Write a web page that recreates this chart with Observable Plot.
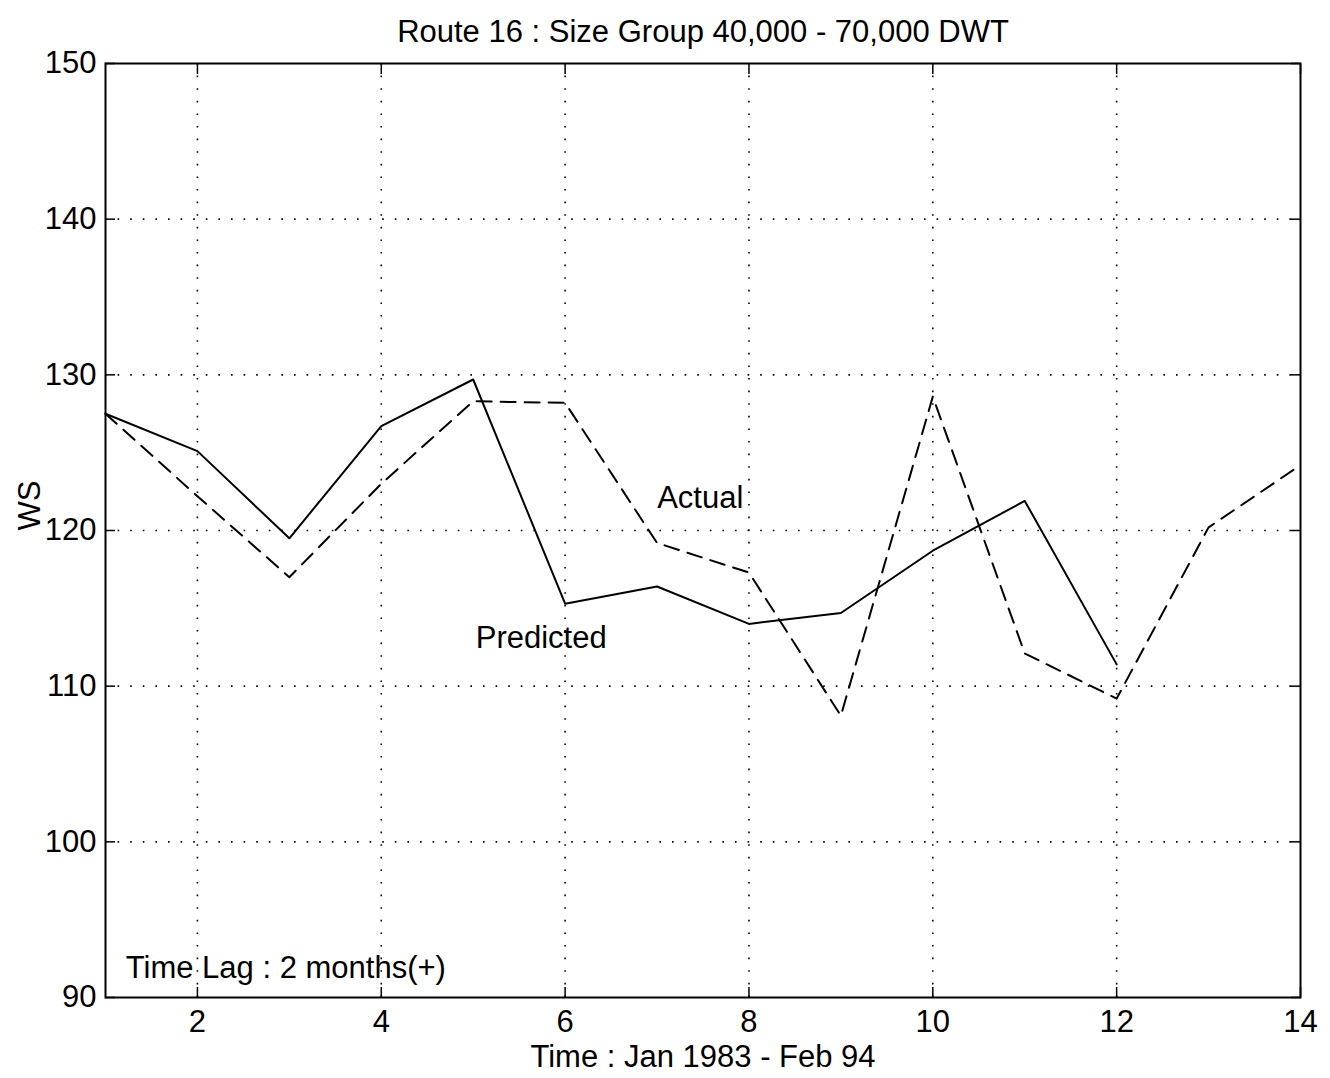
<!DOCTYPE html>
<html>
<head>
<meta charset="utf-8">
<script src="https://cdn.jsdelivr.net/npm/d3@7"></script>
<script src="https://cdn.jsdelivr.net/npm/@observablehq/plot@0.6"></script>
<style>
  html, body { margin: 0; padding: 0; background: #fff; }
  #chart svg { display: block; }
</style>
</head>
<body>
<div id="chart"></div>
<script>
const months = [1, 2, 3, 4, 5, 6, 7, 8, 9, 10, 11, 12, 13, 14];
const actual = [127.5, 122.2, 117.0, 123.0, 128.3, 128.2, 119.2, 117.3, 108.1, 128.6, 112.1, 109.2, 120.2, 124.2];
const predicted = [127.5, 125.1, 119.5, 126.7, 129.7, 115.3, 116.4, 114.0, 114.7, 118.7, 121.9, 111.4];
const xTicks = [2, 4, 6, 8, 10, 12, 14];
const yTicks = [90, 100, 110, 120, 130, 140, 150];
const xGrid = [2, 4, 6, 8, 10, 12];
const yGrid = [100, 110, 120, 130, 140];
const centerLabels = [
  {x: 7.47, y: 122.1, text: "Actual"},
  {x: 5.74, y: 113.1, text: "Predicted"}
];
const lagLabel = [{x: 1.22, y: 91.9, text: "Time Lag : 2 months(+)"}];
const title = "Route 16 : Size Group 40,000 - 70,000 DWT";
const xLabel = "Time : Jan 1983 - Feb 94";
const yLabel = "WS";

const actualData = actual.map((v, i) => ({x: months[i], y: v}));
const predData = predicted.map((v, i) => ({x: months[i], y: v}));

const FONT = "'Liberation Sans', Arial, Helvetica, sans-serif";
const FS = 31;

const chart = Plot.plot({
  width: 1330,
  height: 1078,
  marginLeft: 105,
  marginRight: 30,
  marginTop: 63,
  marginBottom: 81,
  style: {fontFamily: FONT, fontSize: FS + "px", color: "#000", background: "#fff"},
  x: {domain: [1, 14]},
  y: {domain: [90, 150]},
  marks: [
    Plot.ruleX(xGrid, {stroke: "#000", strokeWidth: 1.6, strokeDasharray: "1.6,11", strokeOpacity: 1}),
    Plot.ruleY(yGrid, {stroke: "#000", strokeWidth: 1.6, strokeDasharray: "1.6,11", strokeOpacity: 1}),
    Plot.line(actualData, {x: "x", y: "y", stroke: "#000", strokeWidth: 2, strokeDasharray: "15,9"}),
    Plot.line(predData, {x: "x", y: "y", stroke: "#000", strokeWidth: 2}),
    Plot.text(centerLabels, {x: "x", y: "y", text: "text", textAnchor: "middle", fontSize: FS, fill: "#000"}),
    Plot.text(lagLabel, {x: "x", y: "y", text: "text", textAnchor: "start", fontSize: FS, fill: "#000"}),
    // inward ticks
    Plot.axisX(xTicks, {anchor: "bottom", tickSize: -10, text: null, label: null, strokeWidth: 1.5}),
    Plot.axisX(xTicks, {anchor: "top", tickSize: -10, text: null, label: null, strokeWidth: 1.5}),
    Plot.axisY(yTicks, {anchor: "left", tickSize: -10, text: null, label: null, strokeWidth: 1.5}),
    Plot.axisY(yTicks, {anchor: "right", tickSize: -10, text: null, label: null, strokeWidth: 1.5}),
    // tick labels
    Plot.axisX(xTicks, {anchor: "bottom", tickSize: 0, tickPadding: 12, fontSize: FS, label: null}),
    Plot.axisY(yTicks, {anchor: "left", tickSize: 0, tickPadding: 9, fontSize: FS, label: null}),
    Plot.frame({stroke: "#000", strokeWidth: 2}),
    Plot.text([title], {frameAnchor: "top", dy: -44, fontSize: FS, fill: "#000"}),
    Plot.text([xLabel], {frameAnchor: "bottom", dy: 69, fontSize: FS, fill: "#000"}),
    Plot.text([yLabel], {frameAnchor: "left", dx: -75, rotate: -90, fontSize: FS, fill: "#000"})
  ]
});
document.getElementById("chart").appendChild(chart);
</script>
</body>
</html>
